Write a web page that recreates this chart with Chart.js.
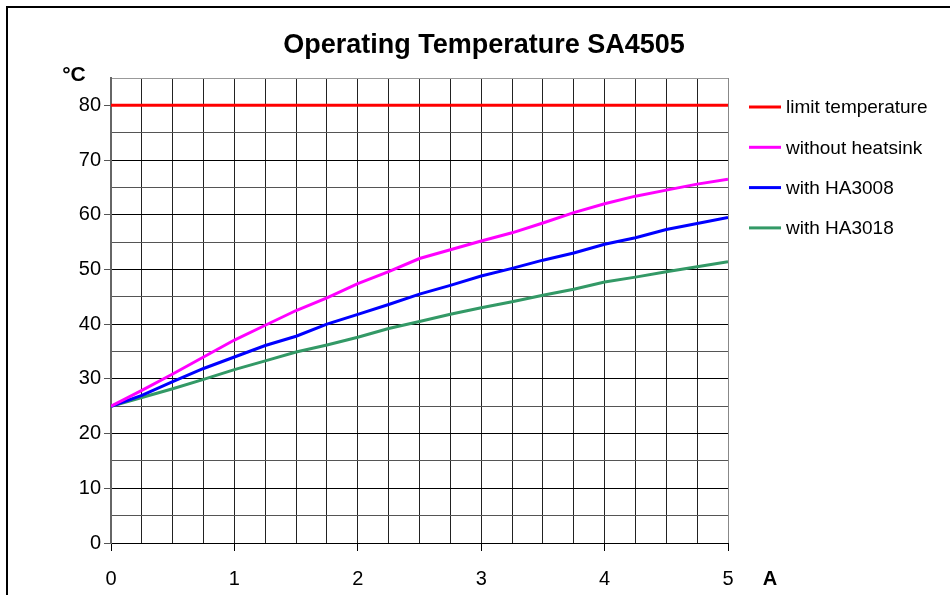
<!DOCTYPE html>
<html><head><meta charset="utf-8">
<script src="https://cdn.jsdelivr.net/npm/chart.js@4"></script>
<style>html,body{margin:0;padding:0;background:#fff}#wrap{width:950px;height:595px;position:relative}</style>
</head><body><div id="wrap"><canvas id="c" width="950" height="595"></canvas></div>
<script>
const currentA = [0,0.25,0.5,0.75,1,1.25,1.5,1.75,2,2.25,2.5,2.75,3,3.25,3.5,3.75,4,4.25,4.5,4.75,5];
const limitTemp = [80,80,80,80,80,80,80,80,80,80,80,80,80,80,80,80,80,80,80,80,80];
const withoutHeatsink = [25,27.9,30.9,34.0,37.1,39.8,42.5,44.8,47.4,49.6,52.0,53.6,55.2,56.7,58.5,60.4,62.0,63.4,64.5,65.6,66.5];
const withHA3008 = [25,27.0,29.5,31.9,34.0,36.1,37.8,40.0,41.8,43.6,45.5,47.1,48.8,50.2,51.7,53.0,54.6,55.8,57.3,58.4,59.5];
const withHA3018 = [25,26.6,28.2,29.9,31.7,33.3,34.9,36.2,37.6,39.2,40.5,41.8,43.0,44.1,45.3,46.4,47.7,48.6,49.6,50.5,51.4];
const seriesLabels = ['limit temperature','without heatsink','with HA3008','with HA3018'];
const seriesColors = ['#FF0000','#FF00FF','#0000FF','#339966'];
const yTickLabels = [0,10,20,30,40,50,60,70,80];
const xTickLabels = [0,1,2,3,4,5];
const titleText = 'Operating Temperature SA4505';
const yUnit = '°C';
const xUnit = 'A';

Chart.defaults.font.family = '"Liberation Sans", Arial, sans-serif';
Chart.defaults.color = '#000';

const seriesValues = [limitTemp, withoutHeatsink, withHA3008, withHA3018];
const datasets = seriesValues.map((vals, i) => ({
  label: seriesLabels[i],
  data: currentA.map((x, j) => ({x: x, y: vals[j]})),
  borderColor: seriesColors[i],
  backgroundColor: seriesColors[i],
  borderWidth: 3,
  pointRadius: 0,
  tension: 0,
  fill: false
}));

const decor = {
  id: 'decor',
  beforeDraw(chart) {
    const c = chart.ctx;
    c.save();
    c.fillStyle = '#fff';
    c.fillRect(0, 0, chart.width, chart.height);
    c.strokeStyle = '#000';
    c.lineWidth = 2;
    c.beginPath();
    c.moveTo(7, 620); c.lineTo(7, 7); c.lineTo(960, 7);
    c.stroke();
    c.restore();
  },
  afterDraw(chart) {
    const c = chart.ctx;
    c.save();
    c.fillStyle = '#000';
    c.font = 'bold 21px "Liberation Sans", Arial, sans-serif';
    c.textBaseline = 'middle';
    c.textAlign = 'center';
    c.fillText(yUnit, 74, 75);
    c.font = 'bold 20px "Liberation Sans", Arial, sans-serif';
    c.fillText(xUnit, 770, 579);
    // legend
    c.font = '19px "Liberation Sans", Arial, sans-serif';
    c.textAlign = 'left';
    chart.data.datasets.forEach((ds, i) => {
      const y = 107 + i * 40.3;
      c.strokeStyle = ds.borderColor;
      c.lineWidth = 3;
      c.beginPath(); c.moveTo(749, y); c.lineTo(781, y); c.stroke();
      c.fillStyle = '#000';
      c.fillText(ds.label, 786, y + 1);
    });
    c.restore();
  }
};

new Chart(document.getElementById('c'), {
  type: 'line',
  data: { datasets },
  options: {
    responsive: false,
    animation: false,
    layout: { padding: { left: 20, right: 2, top: 10, bottom: 0 } },
    plugins: {
      legend: { display: false },
      tooltip: { enabled: false },
      title: {
        display: true,
        text: titleText,
        color: '#000',
        font: { size: 27, weight: 'bold' },
        padding: { top: 19, bottom: 16.6 }
      }
    },
    scales: {
      x: {
        type: 'linear',
        min: 0, max: 5,
        afterFit: s => { s.height = 52; },
        ticks: {
          stepSize: 0.25,
          autoSkip: false,
          maxRotation: 0,
          padding: 16,
          font: { size: 20 },
          color: '#000',
          callback: v => xTickLabels.includes(v) ? String(v) : ''
        },
        grid: {
          color: ctx => (ctx.tick && ctx.tick.value === 5) ? '#888' : '#222',
          lineWidth: 1,
          tickLength: 8,
          tickColor: ctx => (ctx.tick && Number.isInteger(ctx.tick.value)) ? '#000' : 'rgba(0,0,0,0)'
        },
        border: { color: '#000', width: 1 }
      },
      y: {
        min: 0, max: 85,
        afterFit: s => { s.width = 91; },
        ticks: {
          stepSize: 5,
          autoSkip: false,
          padding: 3,
          font: { size: 20 },
          color: '#000',
          callback: v => yTickLabels.includes(v) ? String(v) : ''
        },
        grid: {
          color: ctx => {
            const v = ctx.tick ? ctx.tick.value : 0;
            if (v === 85) return '#999';
            return v % 10 === 0 ? '#000' : '#555';
          },
          lineWidth: 1,
          tickLength: 7,
          tickColor: ctx => (ctx.tick && ctx.tick.value % 10 === 0 && ctx.tick.value <= 80) ? '#555' : 'rgba(0,0,0,0)'
        },
        border: { color: '#666', width: 2 }
      },
      yRight: {
        position: 'right',
        min: 0, max: 85,
        afterFit: s => { s.width = 220; },
        ticks: { display: false },
        grid: { display: false, drawTicks: false },
        border: { display: false }
      }
    }
  },
  plugins: [decor]
});
</script>
</body></html>
